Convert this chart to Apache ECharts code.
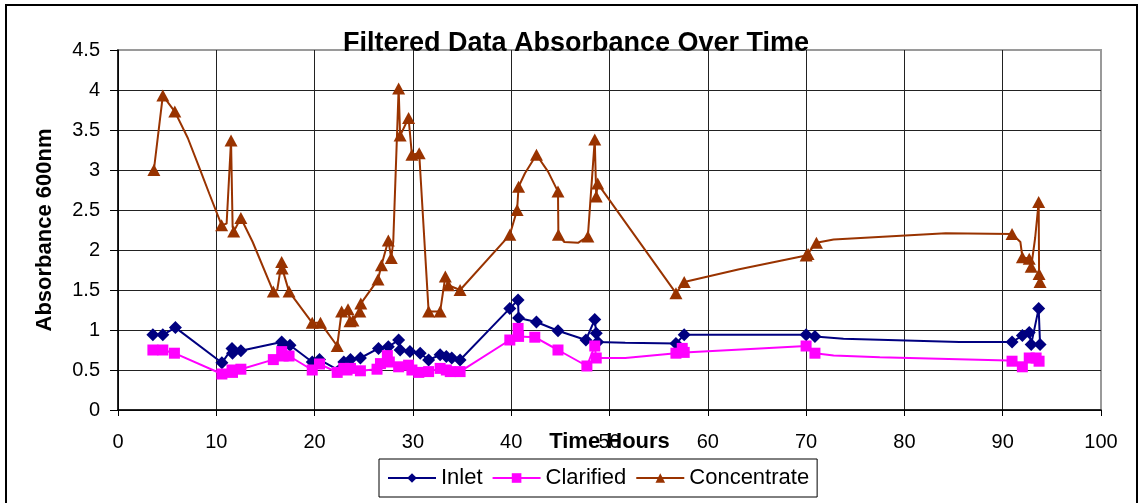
<!DOCTYPE html>
<html>
<head>
<meta charset="utf-8">
<script src="https://cdn.jsdelivr.net/npm/echarts@6/dist/echarts.min.js"></script>
<style>
  html, body { margin: 0; padding: 0; background: #fff; }
  #chart { width: 1139px; height: 503px; }
</style>
</head>
<body>
<div id="chart"></div>
<script>
// Absorbance at 600 nm against run time (hours).
// "marked" flags: 1 = sample drawn with a marker, 0 = trace point without marker.

const inletHours  = [3.55, 4.56, 5.84, 10.57, 11.6, 11.65, 12.5, 16.65, 16.8, 17.5, 19.76, 20.5, 22.1, 22.97, 23.65, 24.66, 26.5, 27.5, 28.55, 28.7, 29.7, 30.74, 31.6, 32.77, 33.4, 33.95, 34.8, 39.86, 40.7, 40.75, 42.57, 44.76, 47.6, 48.5, 48.65, 48.8, 51.6, 56.76, 57.6, 70.0, 70.9, 73.8, 85.6, 90.95, 92.0, 92.7, 92.9, 93.66, 93.8];
const inletAbs    = [0.94, 0.94, 1.03, 0.59, 0.77, 0.71, 0.74, 0.85, 0.81, 0.81, 0.60, 0.63, 0.52, 0.60, 0.63, 0.65, 0.77, 0.79, 0.875, 0.75, 0.73, 0.71, 0.625, 0.69, 0.67, 0.65, 0.625, 1.27, 1.375, 1.15, 1.10, 0.99, 0.875, 1.13, 0.96, 0.85, 0.84, 0.83, 0.94, 0.94, 0.92, 0.89, 0.85, 0.85, 0.93, 0.97, 0.82, 1.27, 0.82];
const inletMarked = [1, 1, 1, 1, 1, 1, 1, 1, 1, 1, 1, 1, 0, 1, 1, 1, 1, 1, 1, 1, 1, 1, 1, 1, 1, 1, 1, 1, 1, 1, 1, 1, 1, 1, 1, 1, 0, 1, 1, 1, 1, 0, 0, 1, 1, 1, 1, 1, 1];

const clarifiedHours  = [3.55, 4.56, 5.74, 10.57, 11.6, 11.65, 12.5, 15.8, 16.65, 16.8, 17.4, 19.76, 20.5, 22.3, 22.97, 23.3, 23.65, 24.66, 26.35, 26.7, 27.4, 27.6, 28.55, 29.56, 29.9, 30.6, 31.6, 32.77, 33.4, 33.8, 34.8, 39.86, 40.7, 40.75, 42.4, 44.76, 47.7, 48.5, 48.65, 51.6, 56.76, 57.4, 57.6, 65.3, 70.0, 70.9, 72.8, 77.5, 90.5, 90.95, 92.0, 92.7, 93.4, 93.7];
const clarifiedAbs    = [0.75, 0.75, 0.71, 0.45, 0.50, 0.47, 0.51, 0.63, 0.73, 0.675, 0.675, 0.50, 0.575, 0.47, 0.52, 0.50, 0.52, 0.49, 0.51, 0.58, 0.68, 0.60, 0.54, 0.56, 0.50, 0.47, 0.48, 0.52, 0.50, 0.48, 0.48, 0.875, 1.02, 0.92, 0.91, 0.75, 0.55, 0.80, 0.65, 0.65, 0.71, 0.77, 0.72, 0.77, 0.80, 0.71, 0.68, 0.66, 0.62, 0.61, 0.54, 0.65, 0.65, 0.61];
const clarifiedMarked = [1, 1, 1, 1, 1, 1, 1, 1, 1, 1, 1, 1, 1, 1, 1, 1, 1, 1, 1, 1, 1, 1, 1, 1, 1, 1, 1, 1, 1, 1, 1, 1, 1, 1, 1, 1, 1, 1, 1, 0, 1, 1, 1, 0, 1, 1, 0, 0, 0, 1, 1, 1, 1, 1];

const concentrateHours  = [3.65, 4.56, 5.78, 7.1, 8.3, 9.3, 10.54, 11.05, 11.5, 11.66, 11.77, 12.5, 13.7, 15.8, 16.2, 16.65, 16.7, 17.4, 19.76, 20.6, 22.3, 22.75, 23.4, 23.6, 23.9, 24.6, 24.7, 26.45, 26.8, 27.5, 27.8, 28.0, 28.55, 28.7, 29.56, 29.9, 30.64, 31.6, 32.77, 33.3, 33.6, 34.8, 39.86, 40.6, 40.75, 41.4, 42.57, 43.75, 44.76, 44.8, 45.4, 46.8, 47.8, 48.5, 48.65, 48.8, 56.76, 57.6, 63.2, 70.0, 70.2, 71.05, 72.8, 84.2, 90.95, 91.8, 92.0, 92.7, 92.9, 93.3, 93.66, 93.7, 93.8];
const concentrateAbs    = [3.00, 3.93, 3.73, 3.40, 3.02, 2.70, 2.31, 2.33, 3.37, 2.29, 2.23, 2.40, 2.10, 1.48, 1.50, 1.85, 1.77, 1.48, 1.09, 1.09, 0.80, 1.23, 1.26, 1.11, 1.12, 1.23, 1.33, 1.63, 1.81, 2.12, 1.90, 2.10, 4.02, 3.43, 3.65, 3.19, 3.21, 1.23, 1.23, 1.67, 1.56, 1.50, 2.19, 2.50, 2.79, 2.96, 3.19, 2.98, 2.73, 2.19, 2.10, 2.09, 2.17, 3.38, 2.67, 2.83, 1.46, 1.60, 1.76, 1.93, 1.95, 2.09, 2.13, 2.21, 2.20, 2.10, 1.91, 1.89, 1.79, 2.15, 2.60, 1.70, 1.60];
const concentrateMarked = [1, 1, 1, 0, 0, 0, 1, 0, 1, 0, 1, 1, 0, 1, 0, 1, 1, 1, 1, 1, 1, 1, 1, 1, 1, 1, 1, 1, 1, 1, 1, 0, 1, 1, 1, 1, 1, 1, 1, 1, 1, 1, 1, 1, 1, 0, 1, 0, 1, 1, 0, 0, 1, 1, 1, 1, 1, 1, 0, 1, 1, 1, 0, 0, 1, 0, 1, 1, 1, 0, 1, 1, 1];

const yTicks = ['0', '0.5', '1', '1.5', '2', '2.5', '3', '3.5', '4', '4.5'];
const xTicks = ['0', '10', '20', '30', '40', '50', '60', '70', '80', '90', '100'];

const FONT = '"Liberation Sans", Arial, sans-serif';

function buildPoints(hours, values, marked, symbol) {
  return hours.map((h, i) => ({
    value: [h, values[i]],
    symbol: marked[i] ? symbol : 'none'
  }));
}

function lineSeries(name, color, symbol, size, hours, values, marked) {
  return {
    name: name,
    type: 'line',
    symbol: symbol,
    symbolSize: size,
    showSymbol: true,
    showAllSymbol: true,
    color: color,
    lineStyle: { color: color, width: 2 },
    itemStyle: { color: color, borderWidth: 0 },
    emphasis: { disabled: true },
    data: buildPoints(hours, values, marked, symbol)
  };
}

// split line colours: interior lines black, the outermost one grey like the plot frame
const yGridColors = yTicks.map((t, i) => i === yTicks.length - 1 ? '#9a9a9a' : '#222');
const xGridColors = xTicks.map((t, i) => i === xTicks.length - 1 ? '#9a9a9a' : '#222');

const chart = echarts.init(document.getElementById('chart'), null, { renderer: 'canvas' });

chart.setOption({
  animation: false,
  backgroundColor: '#fff',
  textStyle: { fontFamily: FONT },
  title: {
    text: 'Filtered Data Absorbance Over Time',
    left: 571,
    textAlign: 'center',
    top: 25,
    textStyle: { fontFamily: FONT, fontSize: 27, fontWeight: 'bold', color: '#000' }
  },
  graphic: [{
    type: 'rect',
    shape: { x: 6, y: 5, width: 1131, height: 520 },
    style: { fill: 'none', stroke: '#000', lineWidth: 2 },
    z: 0
  }],
  grid: {
    left: 118, right: 38, top: 50, bottom: 93,
    show: true, borderColor: '#9a9a9a', borderWidth: 2, backgroundColor: '#fff'
  },
  legend: {
    left: 379, top: 459,
    itemWidth: 48, itemHeight: 12, itemGap: 9,
    padding: [8, 8, 8, 8],
    borderColor: '#000', borderWidth: 1, backgroundColor: '#fff',
    textStyle: { fontFamily: FONT, fontSize: 22, color: '#000' },
    data: ['Inlet', 'Clarified', 'Concentrate']
  },
  xAxis: {
    type: 'value',
    min: 0, max: 100, interval: 10,
    name: 'Time Hours',
    nameLocation: 'middle',
    nameGap: 21,
    nameMoveOverlap: false,
    nameTextStyle: { fontFamily: FONT, fontSize: 22, fontWeight: 'bold', color: '#000' },
    axisLine: { show: true, onZero: false, lineStyle: { color: '#000', width: 1.5 } },
    axisTick: { show: true, length: 6, lineStyle: { color: '#000' } },
    axisLabel: {
      margin: 22, fontFamily: FONT, fontSize: 20, color: '#000',
      formatter: (v) => xTicks[Math.round(v / 10)]
    },
    splitLine: { show: true, lineStyle: { color: xGridColors, width: 1 } }
  },
  yAxis: {
    type: 'value',
    min: 0, max: 4.5, interval: 0.5,
    name: 'Absorbance 600nm',
    nameLocation: 'middle',
    nameGap: 62,
    nameMoveOverlap: false,
    nameTextStyle: { fontFamily: FONT, fontSize: 22, fontWeight: 'bold', color: '#000' },
    axisLine: { show: true, onZero: false, lineStyle: { color: '#000', width: 1.5 } },
    axisTick: { show: true, length: 8, lineStyle: { color: '#000' } },
    axisLabel: {
      margin: 18, fontFamily: FONT, fontSize: 20, color: '#000',
      formatter: (v) => yTicks[Math.round(v / 0.5)]
    },
    splitLine: { show: true, lineStyle: { color: yGridColors, width: 1 } }
  },
  series: [
    lineSeries('Inlet', '#000080', 'diamond', [13, 13], inletHours, inletAbs, inletMarked),
    lineSeries('Clarified', '#ff00ff', 'rect', 11, clarifiedHours, clarifiedAbs, clarifiedMarked),
    lineSeries('Concentrate', '#993300', 'triangle', [13, 12], concentrateHours, concentrateAbs, concentrateMarked)
  ]
});
</script>
</body>
</html>
